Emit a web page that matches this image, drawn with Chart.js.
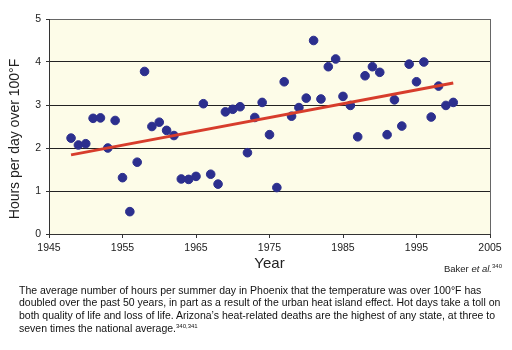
<!DOCTYPE html>
<html>
<head>
<meta charset="utf-8">
<script src="https://cdn.jsdelivr.net/npm/chart.js@4"></script>
<style>
  body { margin: 0; background: #fff; font-family: "Liberation Sans", Arial, sans-serif; }
  #wrap { position: relative; width: 512px; height: 350px; }
  #chartBox { position: absolute; left: 0; top: 0; width: 512px; height: 280px; }
  #source { position: absolute; right: 10px; top: 263px; font-size: 9.5px; line-height: 12px; color: #222; white-space: nowrap; }
  #source sup { font-size: 6px; vertical-align: 4px; line-height: 0; }
  #caption { position: absolute; left: 19px; top: 283.5px; font-size: 10.5px; line-height: 12.9px; color: #111; white-space: nowrap; }
  #caption sup { font-size: 6px; vertical-align: 4px; line-height: 0; }
</style>
</head>
<body>
<div id="wrap">
  <div id="chartBox"><canvas id="heatChart"></canvas></div>
  <div id="source">Baker <i>et al.</i><sup>340</sup></div>
  <div id="caption">The average number of hours per summer day in Phoenix that the temperature was over 100°F has<br>doubled over the past 50 years, in part as a result of the urban heat island effect. Hot days take a toll on<br>both quality of life and loss of life. Arizona’s heat-related deaths are the highest of any state, at three to<br>seven times the national average.<sup>340,341</sup></div>
</div>
<script>
const years = [1948, 1949, 1950, 1951, 1952, 1953, 1954, 1955, 1956, 1957,
    1958, 1959, 1960, 1961, 1962, 1963, 1964, 1965, 1966, 1967,
    1968, 1969, 1970, 1971, 1972, 1973, 1974, 1975, 1976, 1977,
    1978, 1979, 1980, 1981, 1982, 1983, 1984, 1985, 1986, 1987,
    1988, 1989, 1990, 1991, 1992, 1993, 1994, 1995, 1996, 1997,
    1998, 1999, 2000];
const hoursOver100 = [2.23, 2.07, 2.10, 2.69, 2.70, 2.00, 2.64, 1.31, 0.52, 1.67,
    3.78, 2.50, 2.60, 2.41, 2.29, 1.28, 1.27, 1.34, 3.03, 1.39,
    1.16, 2.84, 2.90, 2.96, 1.89, 2.71, 3.06, 2.31, 1.08, 3.54,
    2.74, 2.94, 3.16, 4.50, 3.14, 3.89, 4.07, 3.20, 2.99, 2.26,
    3.68, 3.89, 3.76, 2.31, 3.12, 2.51, 3.95, 3.54, 4.00, 2.72,
    3.44, 2.99, 3.06];

// trend line end points
const trendYears = [1948, 2000];
const trendValues = [1.84, 3.51];

const xTicks = [1945, 1955, 1965, 1975, 1985, 1995, 2005];
const yTicks = [0, 1, 2, 3, 4, 5];
const yTitle = 'Hours per day over 100°F';

const plotBg = {
    id: 'plotBg',
    beforeDraw(chart) {
        const {ctx, chartArea: a} = chart;
        ctx.save();
        ctx.fillStyle = '#FDFCE8';
        ctx.fillRect(a.left, a.top, a.right - a.left, a.bottom - a.top);
        ctx.restore();
    }
};

// y title sits a bit below the plot middle in the original
const yTitlePlugin = {
    id: 'yTitle',
    afterDraw(chart) {
        const ctx = chart.ctx;
        ctx.save();
        ctx.translate(15, 139);
        ctx.rotate(-Math.PI / 2);
        ctx.font = '14px "Liberation Sans"';
        ctx.fillStyle = '#222';
        ctx.textAlign = 'center';
        ctx.textBaseline = 'middle';
        ctx.fillText(yTitle, 0, 0);
        ctx.restore();
    }
};

const tickFont = {family: 'Liberation Sans', size: 10.5};

new Chart(document.getElementById('heatChart').getContext('2d'), {
    type: 'scatter',
    data: {
        datasets: [
            {
                label: 'Hours',
                data: years.map((y, i) => ({x: y, y: hoursOver100[i]})),
                backgroundColor: '#2C2F8E',
                borderColor: '#2C2F8E',
                pointRadius: 4.3,
                order: 1
            },
            {
                label: 'Trend',
                type: 'line',
                data: trendYears.map((y, i) => ({x: y, y: trendValues[i]})),
                borderColor: '#D73D2C',
                borderWidth: 3,
                pointRadius: 0,
                fill: false,
                order: 0
            }
        ]
    },
    options: {
        responsive: true,
        maintainAspectRatio: false,
        animation: false,
        layout: {padding: {left: 0, top: 19, right: 22, bottom: 0}},
        plugins: {
            legend: {display: false},
            tooltip: {enabled: false}
        },
        scales: {
            x: {
                type: 'linear',
                min: 1945,
                max: 2005,
                afterBuildTicks: s => { s.ticks = xTicks.map(v => ({value: v})); },
                afterFit: s => { s.height = 46; },
                ticks: {font: tickFont, color: '#222', padding: 4, maxRotation: 0,
                    callback: v => String(v)},
                grid: {
                    drawOnChartArea: true,
                    color: c => (c.tick && c.tick.value === 2005) ? '#666' : 'rgba(0,0,0,0)',
                    tickColor: '#333',
                    tickLength: 4
                },
                border: {color: '#333', width: 1},
                title: {display: true, text: 'Year', color: '#222',
                    font: {family: 'Liberation Sans', size: 15},
                    padding: {top: 0, bottom: 7}}
            },
            y: {
                min: 0,
                max: 5,
                afterBuildTicks: s => { s.ticks = yTicks.map(v => ({value: v})); },
                afterFit: s => { s.width = 49; },
                ticks: {font: tickFont, color: '#222', padding: 5},
                grid: {
                    color: c => (c.tick && c.tick.value === 5) ? '#666' : '#222',
                    tickColor: '#333',
                    tickLength: 3
                },
                border: {color: '#333', width: 1}
            }
        }
    },
    plugins: [plotBg, yTitlePlugin]
});
</script>
</body>
</html>
